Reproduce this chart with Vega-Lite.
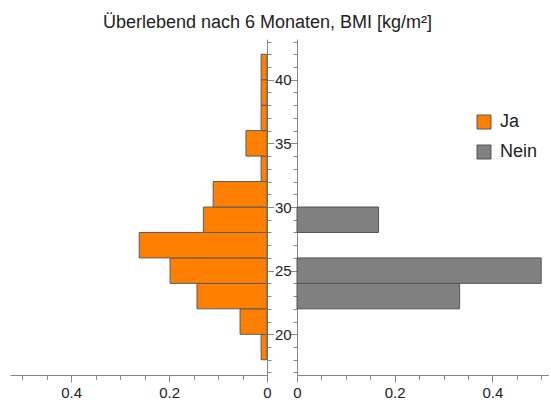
{
  "$schema": "https://vega.github.io/schema/vega-lite/v6.json",
  "padding": {"left": 10, "top": 13, "right": 0, "bottom": 0},
  "bounds": "flush",
  "spacing": 30,
  "title": {"text": "Überlebend nach 6 Monaten, BMI [kg/m²]", "anchor": "middle", "fontSize": 18, "font": "Liberation Sans", "fontWeight": "normal", "color": "#222222", "offset": 3, "dx": -12},
  "config": {
    "view": {"stroke": null},
    "font": "Liberation Sans",
    "axis": {"grid": false, "domainColor": "#888888", "tickColor": "#888888", "labelColor": "#222222", "labelFontSize": 15, "labelFont": "Liberation Sans", "title": null, "labelOverlap": false, "labelFlush": false}
  },
  "data": {"values": [
    {"g": "Ja", "lo": 18, "hi": 20, "v": 0.012},
    {"g": "Ja", "lo": 20, "hi": 22, "v": 0.055},
    {"g": "Ja", "lo": 22, "hi": 24, "v": 0.143},
    {"g": "Ja", "lo": 24, "hi": 26, "v": 0.198},
    {"g": "Ja", "lo": 26, "hi": 28, "v": 0.261},
    {"g": "Ja", "lo": 28, "hi": 30, "v": 0.13},
    {"g": "Ja", "lo": 30, "hi": 32, "v": 0.11},
    {"g": "Ja", "lo": 32, "hi": 34, "v": 0.012},
    {"g": "Ja", "lo": 34, "hi": 36, "v": 0.043},
    {"g": "Ja", "lo": 36, "hi": 38, "v": 0.012},
    {"g": "Ja", "lo": 38, "hi": 40, "v": 0.012},
    {"g": "Ja", "lo": 40, "hi": 42, "v": 0.012},
    {"g": "Nein", "lo": 22, "hi": 24, "v": 0.333},
    {"g": "Nein", "lo": 24, "hi": 26, "v": 0.5},
    {"g": "Nein", "lo": 28, "hi": 30, "v": 0.167}
  ]},
  "hconcat": [
    {
      "width": 257,
      "height": 336,
      "transform": [{"filter": "datum.g === 'Ja'"}],
      "mark": {"type": "bar", "stroke": "#5a5a5a", "strokeWidth": 1},
      "encoding": {
        "x": {"field": "v", "type": "quantitative",
          "scale": {"domain": [0, 0.525], "reverse": true, "nice": false, "zero": false},
          "axis": {"values": [0, 0.05, 0.1, 0.15, 0.2, 0.25, 0.3, 0.35, 0.4, 0.45, 0.5], "labelPadding": 3,
            "labelExpr": "abs(datum.value*5 - round(datum.value*5)) < 0.001 ? (datum.value == 0 ? '0' : format(datum.value, '.1f')) : ''",
            "tickSize": {"condition": {"test": "abs(datum.value*5 - round(datum.value*5)) < 0.001", "value": 7}, "value": 4.5}}},
        "x2": {"datum": 0},
        "y": {"field": "lo", "type": "quantitative",
          "scale": {"domain": [16.8, 43.2], "nice": false, "zero": false},
          "axis": {"orient": "right", "labelPadding": 1, "values": [17,18,19,20,21,22,23,24,25,26,27,28,29,30,31,32,33,34,35,36,37,38,39,40,41,42,43],
            "labelExpr": "datum.value % 5 === 0 ? datum.label : ''",
            "tickSize": {"condition": {"test": "datum.value % 5 === 0", "value": 6.5}, "value": 4}}},
        "y2": {"field": "hi"},
        "color": {"field": "g", "type": "nominal",
          "scale": {"domain": ["Ja", "Nein"], "range": ["#ff8000", "#808080"]},
          "legend": {"orient": "none", "legendX": 465, "legendY": 74, "title": null, "symbolType": "square", "symbolSize": 196, "symbolStrokeColor": "#555555", "symbolStrokeWidth": 1, "labelFontSize": 18, "labelColor": "#222222", "rowPadding": 12, "labelOffset": 7}}
      }
    },
    {
      "width": 252,
      "height": 336,
      "transform": [{"filter": "datum.g === 'Nein'"}],
      "mark": {"type": "bar", "stroke": "#555555", "strokeWidth": 1},
      "encoding": {
        "x": {"field": "v", "type": "quantitative",
          "scale": {"domain": [0, 0.516], "nice": false, "zero": false},
          "axis": {"values": [0, 0.05, 0.1, 0.15, 0.2, 0.25, 0.3, 0.35, 0.4, 0.45, 0.5], "labelPadding": 3,
            "labelExpr": "abs(datum.value*5 - round(datum.value*5)) < 0.001 ? (datum.value == 0 ? '0' : format(datum.value, '.1f')) : ''",
            "tickSize": {"condition": {"test": "abs(datum.value*5 - round(datum.value*5)) < 0.001", "value": 7}, "value": 4.5}}},
        "x2": {"datum": 0},
        "y": {"field": "lo", "type": "quantitative",
          "scale": {"domain": [16.8, 43.2], "nice": false, "zero": false},
          "axis": {"orient": "left", "labels": false, "values": [17,18,19,20,21,22,23,24,25,26,27,28,29,30,31,32,33,34,35,36,37,38,39,40,41,42,43],
            "tickSize": {"condition": {"test": "datum.value % 5 === 0", "value": 6.5}, "value": 4}}},
        "y2": {"field": "hi"},
        "color": {"field": "g", "type": "nominal",
          "scale": {"domain": ["Ja", "Nein"], "range": ["#ff8000", "#808080"]}}
      }
    }
  ]
}
